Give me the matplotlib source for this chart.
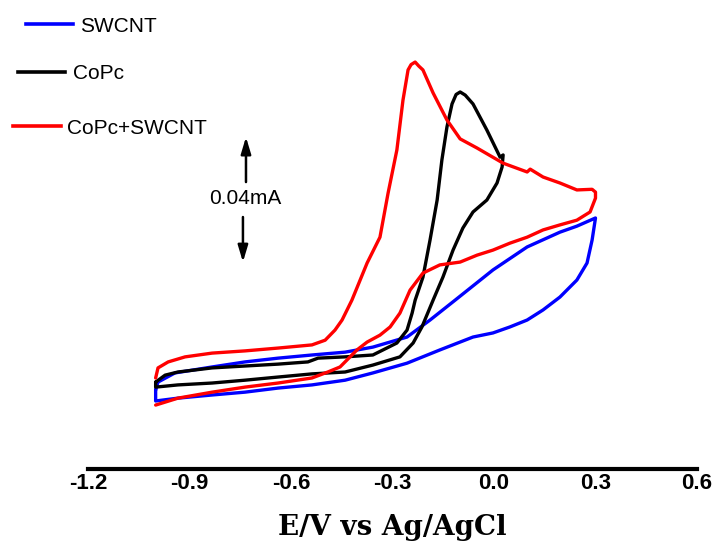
import matplotlib
matplotlib.use("Agg")
import matplotlib.pyplot as plt
from matplotlib.lines import Line2D

# potentials (V vs Ag/AgCl) and currents (uA, arbitrary zero)
swcnt_E = [-1.00, -0.993, -0.943, -0.833, -0.736, -0.638, -0.538, -0.440, -0.358, -0.257,
           -0.189, -0.115, -0.003, 0.098, 0.195, 0.245, 0.300,
           0.290, 0.275, 0.245, 0.195, 0.145, 0.098, 0.047, -0.003, -0.062, -0.160,
           -0.257, -0.358, -0.440, -0.538, -0.638, -0.736, -0.833, -0.934, -1.00, -1.00]
swcnt_I = [3.2, 5.7, 8.6, 10.5, 12.1, 13.3, 14.3, 15.2, 16.8, 20.0,
           25.4, 31.7, 41.3, 48.6, 53.3, 55.2, 57.8,
           50.8, 43.5, 38.1, 32.7, 28.6, 25.4, 23.2, 21.3, 20.0, 15.9,
           11.7, 8.6, 6.3, 4.8, 3.8, 2.5, 1.6, 0.6, -0.3, 3.2]

copc_E = [-1.00, -0.972, -0.934, -0.833, -0.736, -0.638, -0.550, -0.520, -0.440, -0.358,
          -0.287, -0.257, -0.242, -0.233, -0.210, -0.189, -0.168, -0.154, -0.139, -0.124,
          -0.112, -0.100, -0.085, -0.062, -0.021, 0.018, 0.027,
          0.024, 0.009, -0.021, -0.062, -0.092, -0.121, -0.151, -0.180, -0.213, -0.239,
          -0.278, -0.358, -0.440, -0.538, -0.638, -0.736, -0.833, -0.934, -1.00, -1.00]
copc_I = [5.7, 7.9, 8.9, 10.2, 10.8, 11.4, 12.1, 13.3, 13.7, 14.3,
          18.1, 22.2, 27.6, 31.7, 39.0, 50.8, 63.5, 76.2, 86.7, 94.0,
          97.0, 97.8, 96.8, 94.0, 85.7, 77.1, 77.8,
          74.0, 68.9, 63.5, 59.7, 54.6, 47.6, 39.0, 31.7, 23.2, 18.1,
          13.7, 11.1, 8.9, 8.3, 7.3, 6.3, 5.4, 4.8, 4.1, 5.7]

mix_E = [-1.00, -0.993, -0.963, -0.913, -0.833, -0.736, -0.638, -0.538, -0.499, -0.470,
         -0.449, -0.420, -0.375, -0.337, -0.313, -0.287, -0.269, -0.254, -0.245, -0.233,
         -0.222, -0.210, -0.180, -0.139, -0.100, -0.050, 0.027, 0.098, 0.107, 0.145, 0.195,
         0.245, 0.290, 0.300,
         0.300, 0.284, 0.245, 0.195, 0.145, 0.098, 0.047, -0.003, -0.050, -0.100, -0.160,
         -0.210, -0.248, -0.278, -0.307, -0.337, -0.375, -0.405, -0.455, -0.491, -0.538,
         -0.638, -0.736, -0.833, -0.934, -1.00]
mix_I = [7.0, 10.2, 12.1, 13.7, 14.9, 15.6, 16.5, 17.5, 19.0, 22.2,
         25.4, 31.7, 43.5, 51.7, 65.7, 79.4, 95.2, 104.8, 106.5, 107.3,
         106.0, 104.8, 97.5, 88.9, 82.9, 80.0, 75.2, 72.4, 73.3, 70.8, 68.9,
         66.7, 66.9, 66.0,
         64.1, 59.7, 57.1, 55.6, 54.0, 51.7, 49.8, 47.6, 46.0, 43.8, 42.9,
         40.3, 34.9, 27.6, 23.2, 20.6, 18.4, 15.9, 10.5, 8.9, 7.0,
         5.4, 4.1, 2.5, 0.6, -1.6]

xticks = [-1.2, -0.9, -0.6, -0.3, 0.0, 0.3, 0.6]
names = ["SWCNT", "CoPc", "CoPc+SWCNT"]
colors = ["#0000ff", "black", "#ff0000"]

fig = plt.figure(figsize=(7.17, 5.49), dpi=100)
ax = fig.add_axes([0.1227, 0.1457, 0.8494, 0.8543])

for E, I, c in [(swcnt_E, swcnt_I, colors[0]), (copc_E, copc_I, colors[1]),
                (mix_E, mix_I, colors[2])]:
    ax.plot(E, I, color=c, lw=2.4, solid_joinstyle="round", solid_capstyle="round")

ax.set_xlim(-1.2, 0.6)
ax.set_ylim(-21.9, 127.0)
for s in ["top", "left", "right"]:
    ax.spines[s].set_visible(False)
ax.spines["bottom"].set_linewidth(3)
ax.set_yticks([])
ax.set_xticks(xticks)
ax.set_xticklabels(["%.1f" % t for t in xticks], fontfamily="Liberation Sans",
                   fontweight="bold", fontsize=16)
ax.tick_params(axis="x", length=0, pad=3)
ax.set_xlabel("E/V vs Ag/AgCl", fontfamily="DejaVu Serif", fontweight="bold", fontsize=20)
ax.xaxis.set_label_coords(0.5, -0.095)

# scale bar
ax.annotate("", xy=(-0.733, 83.5), xytext=(-0.733, 69.2),
            arrowprops=dict(arrowstyle="-|>,head_length=0.5,head_width=0.15", lw=1.8,
                            color="black", mutation_scale=20, shrinkA=0, shrinkB=0))
ax.annotate("", xy=(-0.742, 43.8), xytext=(-0.742, 58.1),
            arrowprops=dict(arrowstyle="-|>,head_length=0.5,head_width=0.15", lw=1.8,
                            color="black", mutation_scale=20, shrinkA=0, shrinkB=0))
ax.text(-0.735, 64.1, "0.04mA", ha="center", va="center", fontsize=15,
        fontfamily="Liberation Sans")

# legend drawn by hand (figure fractions)
leg_lines = [(0.0363, 0.1018, 0.9563), (0.0251, 0.0907, 0.8689), (0.0181, 0.0851, 0.7705)]
leg_text = [(0.1116, 0.9417), (0.1018, 0.8552), (0.0934, 0.7568)]
for i in range(3):
    x0, x1, y = leg_lines[i]
    fig.add_artist(Line2D([x0, x1], [y, y], color=colors[i], lw=2.6,
                          transform=fig.transFigure))
    fig.text(leg_text[i][0], leg_text[i][1], names[i], fontsize=15,
             fontfamily="Liberation Sans", va="baseline")

fig.savefig("out.png", dpi=100)
